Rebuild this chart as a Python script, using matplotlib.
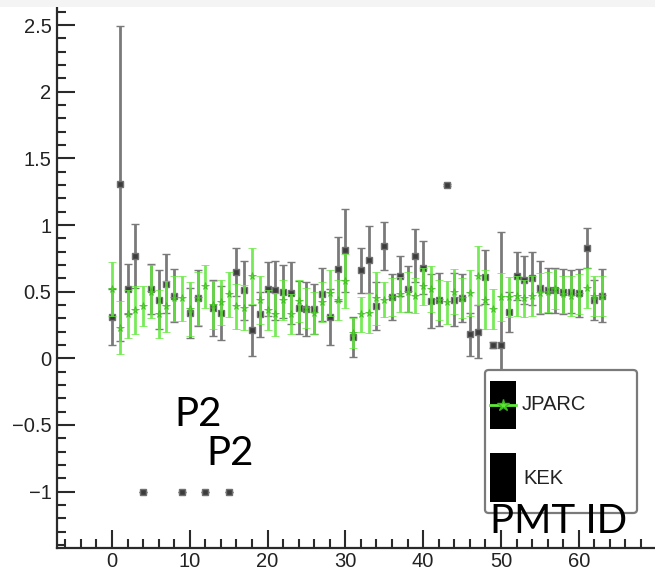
import numpy as np
import matplotlib
matplotlib.use('Agg')
import matplotlib.pyplot as plt
import matplotlib.patches as mpatches
from matplotlib.lines import Line2D
from matplotlib.ticker import MultipleLocator

# PMT ids
pmt_id = np.arange(64)

# KEK gain ratio per PMT, -1 means missing
kek_val = [0.31, 1.31, 0.52, 0.77, -1.0, 0.52, 0.44, 0.56, 0.47, -1.0,
           0.34, 0.45, -1.0, 0.38, 0.34, -1.0, 0.65, 0.51, 0.21, 0.33,
           0.52, 0.51, 0.50, 0.49, 0.38, 0.37, 0.37, 0.48, 0.31, 0.67,
           0.81, 0.16, 0.66, 0.74, 0.39, 0.84, 0.46, 0.62, 0.52, 0.77,
           0.68, 0.43, 0.44, 1.30, 0.44, 0.45, 0.18, 0.20, 0.61, 0.10,
           0.10, 0.35, 0.62, 0.59, 0.60, 0.53, 0.51, 0.51, 0.50, 0.50,
           0.49, 0.83, 0.44, 0.47]
kek_err = [0.21, 1.18, 0.19, 0.24, 0.0, 0.19, 0.22, 0.22, 0.20, 0.0,
           0.19, 0.21, 0.0, 0.21, 0.20, 0.0, 0.18, 0.22, 0.19, 0.17,
           0.20, 0.22, 0.20, 0.23, 0.20, 0.20, 0.19, 0.20, 0.21, 0.24,
           0.31, 0.15, 0.17, 0.25, 0.18, 0.18, 0.17, 0.15, 0.17, 0.20,
           0.20, 0.20, 0.20, 0.01, 0.20, 0.18, 0.16, 0.20, 0.20, 0.02,
           0.85, 0.15, 0.18, 0.18, 0.20, 0.20, 0.17, 0.17, 0.17, 0.16,
           0.18, 0.15, 0.15, 0.20]

# JPARC gain ratio per PMT
jparc_val = [0.52, 0.23, 0.33, 0.36, 0.39, 0.50, 0.33, 0.39, 0.45, 0.45,
             0.37, 0.45, 0.54, 0.40, 0.42, 0.48, 0.39, 0.38, 0.62, 0.44,
             0.36, 0.33, 0.44, 0.33, 0.43, 0.38, 0.34, 0.42, 0.49, 0.44,
             0.58, 0.19, 0.33, 0.34, 0.45, 0.44, 0.46, 0.48, 0.50, 0.47,
             0.54, 0.52, 0.44, 0.42, 0.50, 0.45, 0.49, 0.62, 0.44, 0.37,
             0.46, 0.46, 0.47, 0.45, 0.47, 0.49, 0.50, 0.52, 0.48, 0.47,
             0.48, 0.53, 0.47, 0.47]
jparc_err = [0.20, 0.20, 0.18, 0.18, 0.15, 0.20, 0.18, 0.19, 0.17, 0.17,
             0.20, 0.20, 0.16, 0.18, 0.17, 0.17, 0.17, 0.17, 0.21, 0.18,
             0.15, 0.16, 0.15, 0.15, 0.16, 0.15, 0.16, 0.15, 0.17, 0.15,
             0.20, 0.11, 0.13, 0.15, 0.20, 0.13, 0.14, 0.13, 0.15, 0.13,
             0.14, 0.17, 0.15, 0.16, 0.17, 0.15, 0.17, 0.22, 0.22, 0.15,
             0.18, 0.15, 0.15, 0.14, 0.15, 0.15, 0.15, 0.15, 0.14, 0.15,
             0.15, 0.15, 0.15, 0.15]

W, H = 655, 573
fig = plt.figure(figsize=(W / 100, H / 100), dpi=100)

# axes placed in pixels (left spine at x=57, x axis at y=548)
ax = fig.add_axes([57 / W, (H - 548) / H, (W - 57) / W, 548 / H])

# KEK
ax.errorbar(pmt_id, kek_val, yerr=kek_err, fmt='s', ms=5,
            mfc='#3c3c3c', mec='#707070', mew=1.0,
            ecolor='#7a7a7a', elinewidth=2.0, capsize=3, capthick=1.8,
            zorder=2)
# JPARC
ax.errorbar(pmt_id, jparc_val, yerr=jparc_err, fmt='*', ms=5.5,
            mfc='#4fd62c', mec='#3cb81e', mew=0.6,
            ecolor='#5fe83a', elinewidth=2.0, capsize=3, capthick=1.8,
            alpha=0.85, zorder=3)

ax.set_xlim(-7.07, 69.8)
ax.set_ylim(-1.423, 2.688)

for s in ['top', 'right']:
    ax.spines[s].set_visible(False)
for s in ['left', 'bottom']:
    ax.spines[s].set_linewidth(1.6)
    ax.spines[s].set_color('#2a2a2a')

ax.xaxis.set_major_locator(MultipleLocator(10))
ax.xaxis.set_minor_locator(MultipleLocator(2))
ax.yaxis.set_major_locator(MultipleLocator(0.5))
ax.yaxis.set_minor_locator(MultipleLocator(0.1))
ax.tick_params(axis='both', which='major', direction='in', length=13,
               width=1.5, color='#2a2a2a', labelsize=14.5, labelcolor='#222222')
ax.tick_params(axis='both', which='minor', direction='in', length=6.5,
               width=1.5, color='#2a2a2a')
ax.tick_params(axis='y', pad=4)
ax.tick_params(axis='x', pad=3)
for lab in ax.get_xticklabels() + ax.get_yticklabels():
    lab.set_family('Liberation Sans')
ax.yaxis.set_major_formatter(matplotlib.ticker.FuncFormatter(
    lambda v, p: ('%g' % v).replace('-', '\u2212')))


def px(x, y):
    # figure pixel (from top-left) -> figure fraction
    return x / W, 1 - y / H


# legend box drawn by hand to match the ROOT style
lx0, ly0 = px(485, 513)
lx1, ly1 = px(637, 370)
box = mpatches.FancyBboxPatch((lx0, ly0), lx1 - lx0, ly1 - ly0,
                              boxstyle='round,pad=0,rounding_size=0.006',
                              transform=fig.transFigure, fc='white',
                              ec='#7a7a7a', lw=1.6, zorder=10)
fig.add_artist(box)
for top, bot in [(381, 429), (453, 502)]:
    rx0, ry0 = px(490, bot)
    rx1, ry1 = px(516, top)
    fig.add_artist(mpatches.Rectangle((rx0, ry0), rx1 - rx0, ry1 - ry0,
                                      transform=fig.transFigure, fc='black',
                                      ec='none', zorder=11))
sx0, sy = px(490, 405)
sx1, _ = px(516, 405)
fig.add_artist(Line2D([sx0, sx1], [sy, sy], transform=fig.transFigure,
                      color='#5fe83a', lw=2.0, zorder=12))
fig.add_artist(Line2D([(sx0 + sx1) / 2], [sy], transform=fig.transFigure,
                      marker='*', ms=9, color='#5fe83a', mec='#3cb81e',
                      lw=0, zorder=12))
fig.text(*px(522, 405), 'JPARC', ha='left', va='center', fontsize=14.5,
         family='Liberation Sans', color='#222222', zorder=12)
fig.text(*px(523, 478), 'KEK', ha='left', va='center', fontsize=14.5,
         family='Liberation Sans', color='#222222', zorder=12)

# big overlay labels
fig.text(*px(490, 533), 'PMT ID', ha='left', va='baseline', fontsize=29,
         family='Lato', color='black', zorder=13)
fig.text(*px(174, 426), 'P2', ha='left', va='baseline', fontsize=29,
         family='Lato', color='black', zorder=13)
fig.text(*px(206, 465), 'P2', ha='left', va='baseline', fontsize=29,
         family='Lato', color='black', zorder=13)

# light strip along the top edge of the screenshot
fig.add_artist(mpatches.Rectangle((0, 1 - 7 / H), 1, 7 / H,
                                  transform=fig.transFigure, fc='#f4f4f4',
                                  ec='none', zorder=20))

fig.savefig('out.png', dpi=100)
